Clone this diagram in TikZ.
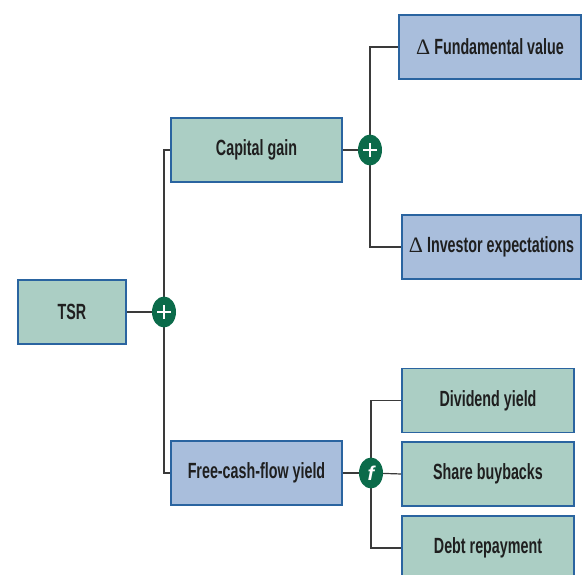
\documentclass[tikz,border=0pt]{standalone}
\usepackage{fontspec}
\setmainfont{Liberation Sans}[FakeStretch=0.65]
\newfontfamily\opfont{Liberation Sans}
\newfontfamily\deltafont{Liberation Serif}
\usetikzlibrary{shapes.geometric,backgrounds}
\definecolor{boxgreen}{HTML}{ABCEC4}
\definecolor{boxblue}{HTML}{A9BEDC}
\definecolor{boxedge}{HTML}{2A64A0}
\definecolor{opgreen}{HTML}{0B6B4A}
\definecolor{wire}{HTML}{3A3A3A}
\newcommand{\dsym}{{\deltafont\mdseries\fontsize{22}{22}\selectfont\char"0394}}
\tikzset{
  x=1pt, y=-1pt,
  box/.style={draw=boxedge, line width=1.3pt, minimum height=64pt, inner sep=0pt,
    font=\fontsize{22}{24}\selectfont\bfseries, text=black!88},
  gbox/.style={box, fill=boxgreen},
  bbox/.style={box, fill=boxblue},
  opnode/.style={ellipse, fill=opgreen, minimum width=24pt, minimum height=31pt, inner sep=0pt},
  wirestyle/.style={draw=wire, line width=1.2pt},
  plusbar/.style={draw=white, line width=2.4pt}
}
\begin{document}
\begin{tikzpicture}
\clip (0,0) rectangle (582,575);

% left column
\node[gbox, minimum width=108pt] (tsr) at (72,312) {TSR};

% middle column
\node[gbox, minimum width=171pt] (cg) at (256.5,150) {Capital gain};
\node[bbox, minimum width=171pt] (fcf) at (256.5,473) {Free-cash-flow yield};

% operators
\node[opnode] (p1) at (164,312) {};
\node[opnode] (p2) at (370,150) {};
\node[opnode] (fo) at (371,473) {\color{white}\opfont\fontsize{20}{20}\selectfont\bfseries\itshape f};

% right column
\node[bbox, minimum width=182pt] (fv) at (490,47) {\dsym\ Fundamental value};
\node[bbox, minimum width=179pt] (ie) at (491.5,247) {\dsym\ Investor expectations};
\node[gbox, minimum width=172pt] (dy) at (488,400.5) {Dividend yield};
\node[gbox, minimum width=172pt] (sb) at (488,474) {Share buybacks};
\node[gbox, minimum width=172pt] (dr) at (488,548) {Debt repayment};

% plus signs
\foreach \p in {p1,p2}{
  \draw[plusbar] ([xshift=-7pt]\p.center) -- ([xshift=7pt]\p.center);
  \draw[plusbar] ([yshift=-7pt]\p.center) -- ([yshift=7pt]\p.center);
}

% connectors, drawn beneath boxes and operators
\begin{scope}[on background layer]
\fill[white] (0,0) rectangle (582,575);
\draw[wirestyle] (tsr.east) -- (p1.center);
\draw[wirestyle] (p1.center) |- (cg.west);
\draw[wirestyle] (p1.center) |- (fcf.west);
\draw[wirestyle] (cg.east) -- (p2.center);
\draw[wirestyle] (p2.center) |- (fv.west);
\draw[wirestyle] (p2.center) |- (ie.west);
\draw[wirestyle] (fcf.east) -- (fo.center);
\draw[wirestyle] (fo.center) |- (dy.west);
\draw[wirestyle] (fo.center) -- (sb.west);
\draw[wirestyle] (fo.center) |- (dr.west);
\end{scope}
\end{tikzpicture}
\end{document}
